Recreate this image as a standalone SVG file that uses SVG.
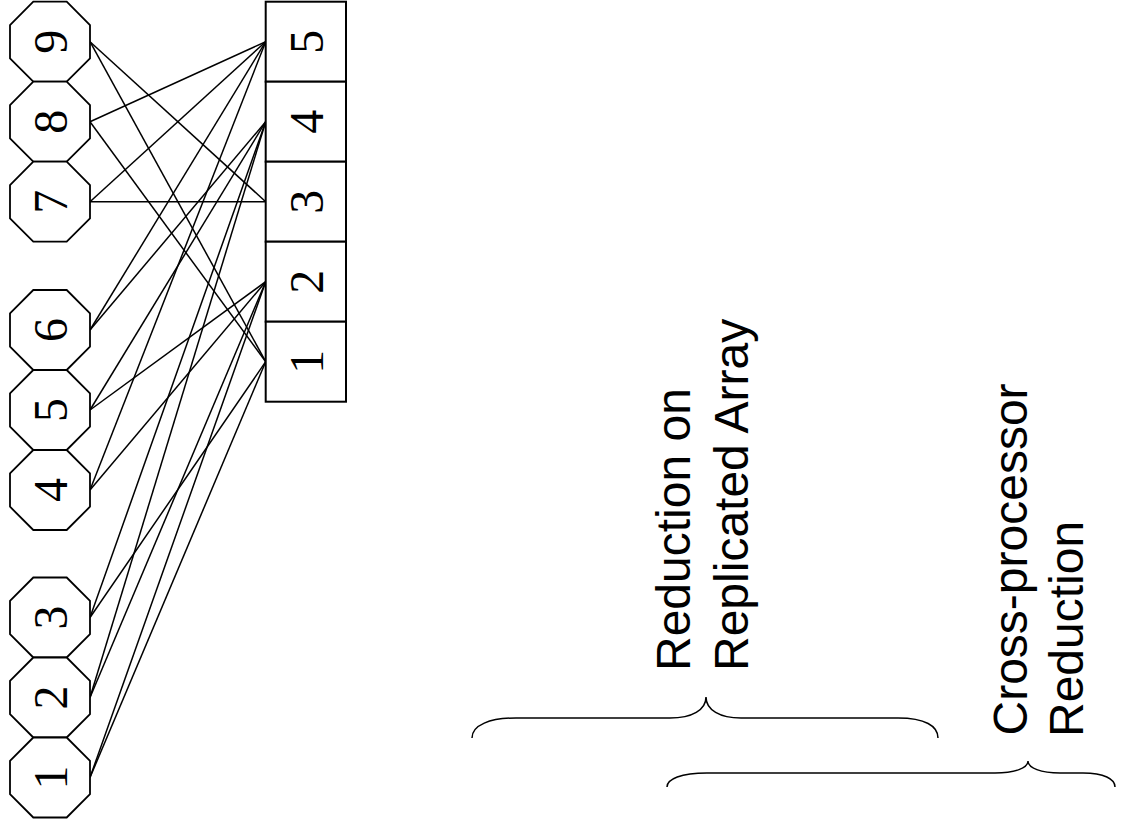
<svg xmlns="http://www.w3.org/2000/svg" xmlns:xlink="http://www.w3.org/1999/xlink" width="1147" height="833" viewBox="0 0 1147 833">
<style>
.oct{fill:#fff;stroke:#000;stroke-width:1.8}
.box{fill:#fff;stroke:#000;stroke-width:2}
.num{font-family:"Liberation Serif","Times New Roman",serif;font-size:48px;text-anchor:middle;fill:#000}
.lbl{font-family:"Liberation Sans",Arial,sans-serif;font-size:48px;fill:#000}
.conn line{stroke:#000;stroke-width:1.5}
.brace{fill:none;stroke:#000;stroke-width:1.5}
</style>
<defs>
<polygon id="oct" points="-16.7,-40 16.7,-40 40,-16.7 40,16.7 16.7,40 -16.7,40 -40,16.7 -40,-16.7"/>
</defs>
<rect width="1147" height="833" fill="#fff"/>
<g id="connectors" class="conn">
<line x1="90" y1="41.7" x2="265.7" y2="201.7"/>
<line x1="90" y1="41.7" x2="265.7" y2="361.7"/>
<line x1="90" y1="121.7" x2="265.7" y2="41.7"/>
<line x1="90" y1="121.7" x2="265.7" y2="361.7"/>
<line x1="90" y1="201.7" x2="265.7" y2="41.7"/>
<line x1="90" y1="201.7" x2="265.7" y2="201.7"/>
<line x1="90" y1="330" x2="265.7" y2="41.7"/>
<line x1="90" y1="330" x2="265.7" y2="121.7"/>
<line x1="90" y1="410" x2="265.7" y2="121.7"/>
<line x1="90" y1="410" x2="265.7" y2="281.7"/>
<line x1="90" y1="490" x2="265.7" y2="41.7"/>
<line x1="90" y1="490" x2="265.7" y2="281.7"/>
<line x1="90" y1="617.5" x2="265.7" y2="121.7"/>
<line x1="90" y1="617.5" x2="265.7" y2="361.7"/>
<line x1="90" y1="697.5" x2="265.7" y2="121.7"/>
<line x1="90" y1="697.5" x2="265.7" y2="281.7"/>
<line x1="90" y1="777.5" x2="265.7" y2="281.7"/>
<line x1="90" y1="777.5" x2="265.7" y2="361.7"/>
</g>
<g id="n9"><use class="oct" xlink:href="#oct" href="#oct" x="50" y="41.7"/><text class="num" transform="translate(67,41.7) rotate(-90)">9</text></g>
<g id="n8"><use class="oct" xlink:href="#oct" href="#oct" x="50" y="121.7"/><text class="num" transform="translate(67,121.7) rotate(-90)">8</text></g>
<g id="n7"><use class="oct" xlink:href="#oct" href="#oct" x="50" y="201.7"/><text class="num" transform="translate(67,201.7) rotate(-90)">7</text></g>
<g id="n6"><use class="oct" xlink:href="#oct" href="#oct" x="50" y="330"/><text class="num" transform="translate(67,330) rotate(-90)">6</text></g>
<g id="n5"><use class="oct" xlink:href="#oct" href="#oct" x="50" y="410"/><text class="num" transform="translate(67,410) rotate(-90)">5</text></g>
<g id="n4"><use class="oct" xlink:href="#oct" href="#oct" x="50" y="490"/><text class="num" transform="translate(67,490) rotate(-90)">4</text></g>
<g id="n3"><use class="oct" xlink:href="#oct" href="#oct" x="50" y="617.5"/><text class="num" transform="translate(67,617.5) rotate(-90)">3</text></g>
<g id="n2"><use class="oct" xlink:href="#oct" href="#oct" x="50" y="697.5"/><text class="num" transform="translate(67,697.5) rotate(-90)">2</text></g>
<g id="n1"><use class="oct" xlink:href="#oct" href="#oct" x="50" y="777.5"/><text class="num" transform="translate(67,777.5) rotate(-90)">1</text></g>
<g id="b5"><rect class="box" x="265.7" y="1.7" width="80.3" height="80"/><text class="num" transform="translate(323,41.7) rotate(-90)">5</text></g>
<g id="b4"><rect class="box" x="265.7" y="81.7" width="80.3" height="80"/><text class="num" transform="translate(323,121.7) rotate(-90)">4</text></g>
<g id="b3"><rect class="box" x="265.7" y="161.7" width="80.3" height="80"/><text class="num" transform="translate(323,201.7) rotate(-90)">3</text></g>
<g id="b2"><rect class="box" x="265.7" y="241.7" width="80.3" height="80"/><text class="num" transform="translate(323,281.7) rotate(-90)">2</text></g>
<g id="b1"><rect class="box" x="265.7" y="321.7" width="80.3" height="80"/><text class="num" transform="translate(323,361.7) rotate(-90)">1</text></g>
<g id="label-replicated">
<text class="lbl" transform="translate(690,671) rotate(-90)">Reduction on</text>
<text class="lbl" transform="translate(748,671) rotate(-90)">Replicated Array</text>
<path class="brace" d="M472,738 C472,725 490,718 516,718 L670,718 C692,718 706,710 706,697 C706,710 720,718 741,718 L898,718 C925,718 938,726 938,738"/>
</g>
<g id="label-cross">
<text class="lbl" transform="translate(1027,735.5) rotate(-90)">Cross-processor</text>
<text class="lbl" transform="translate(1083,737) rotate(-90)">Reduction</text>
<path class="brace" d="M667,787 C667,779 681,773 707,773 L995,773 C1015,773 1028,768 1028,761 C1028,768 1041,773 1060,773 L1083,773 C1104,773 1115,779 1115,787"/>
</g>
</svg>
